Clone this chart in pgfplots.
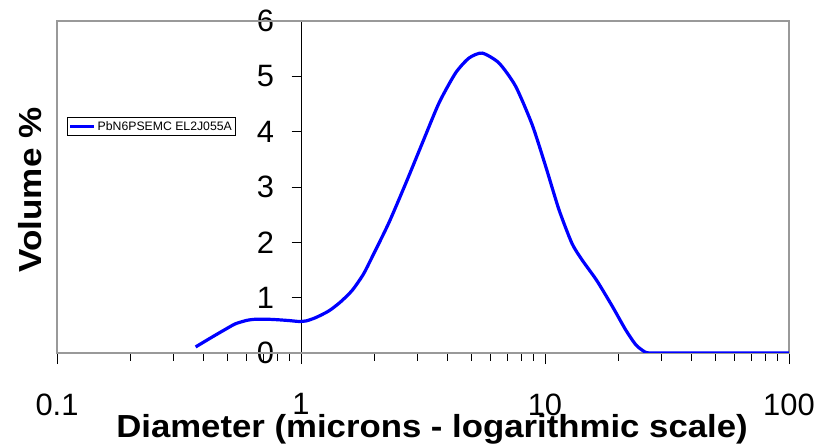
\documentclass[border=0pt]{standalone}
\usepackage{fontspec}
\setmainfont{Liberation Sans}
\usepackage{graphicx}
\usepackage{pgfplots}
\pgfplotsset{compat=1.18}
\begin{document}
\begin{tikzpicture}
\useasboundingbox (0,0) rectangle (821bp,445bp);
% y axis placed at x = 1
\begin{axis}[
  at={(301.5bp,92bp)}, anchor=south west,
  scale only axis, width=487.5bp, height=332bp,
  xmode=log, xmin=1, xmax=100, ymin=0, ymax=6,
  axis x line=none, axis y line*=left,
  y axis line style={black, line width=0.8bp, -},
  ytick={0,1,2,3,4,5,6},
  tick align=outside, major tick length=10bp,
  ytick style={black, line width=0.8bp},
  yticklabel style={font=\fontsize{31}{34}\selectfont, xshift=-14bp},
  /pgf/number format/assume math mode=true,
]
\end{axis}
\begin{axis}[
  at={(57bp,92bp)}, anchor=south west,
  scale only axis, width=732bp, height=332bp,
  xmode=log, xmin=0.1, xmax=100, ymin=0, ymax=6,
  axis line style={gray!80, line width=1.2bp},
  ytick=\empty,
  xtick={0.1,1,10,100},
  xticklabels={0.1,1,10,100},
  minor xtick={0.2,0.3,0.4,0.5,0.6,0.7,0.8,0.9,2,3,4,5,6,7,8,9,20,30,40,50,60,70,80,90},
  xtick pos=left,
  tick align=outside, major tick length=11bp, minor tick length=8bp,
  xtick style={black, line width=0.8bp},
  minor tick style={gray!80!black, line width=0.8bp},
  xticklabel style={font=\fontsize{31}{34}\selectfont, yshift=-26bp},
  /pgf/number format/assume math mode=true,
  legend style={at={(9.7/732,1-96.3/332)}, anchor=north west, draw=black,
    line width=0.6bp, font=\fontsize{12.3}{14}\selectfont,
    inner xsep=1.5bp, inner ysep=1.8bp},
  legend cell align=left,
  legend image code/.code={\draw[#1] (0bp,0bp) -- (24bp,0bp);},
]
\draw[black, line width=0.8bp] (axis cs:0.1,0) -- (axis cs:100,0);
\addplot[blue, line width=3.2bp, smooth, tension=0.4] coordinates {
(0.370,0.11) (0.433,0.29) (0.50,0.45) (0.540,0.53) (0.60,0.59) (0.652,0.61)
(0.73,0.61) (0.81,0.60) (0.90,0.585) (0.98,0.57) (1.05,0.58) (1.15,0.64)
(1.30,0.76) (1.45,0.92) (1.62,1.13) (1.80,1.42) (1.96,1.74) (2.29,2.35) (2.69,3.07)
(3.14,3.79) (3.68,4.52) (4.30,5.06) (4.88,5.33) (5.53,5.42) (6.48,5.24)
(7.58,4.82) (8.87,4.12) (10.07,3.37) (11.41,2.59) (12.9,1.98) (14.2,1.68)
(16.3,1.31) (18.9,0.84) (21.4,0.42) (23.6,0.145) (25.9,0.01) (28,0) (35,0)
(50,0) (70,0) (100,0)};
\addlegendentry{PbN6PSEMC EL2J055A}
\end{axis}
\node[anchor=base, inner sep=0pt, font=\bfseries\fontsize{32}{34}\selectfont] at (432bp,8bp) {\scalebox{1.09}[1]{Diameter (microns - logarithmic scale)}};
\node[anchor=base, inner sep=0pt, font=\bfseries\fontsize{32}{34}\selectfont, rotate=90] at (41.7bp,255bp) {\scalebox{1.1}[1]{Volume \%}};
\end{tikzpicture}
\end{document}
